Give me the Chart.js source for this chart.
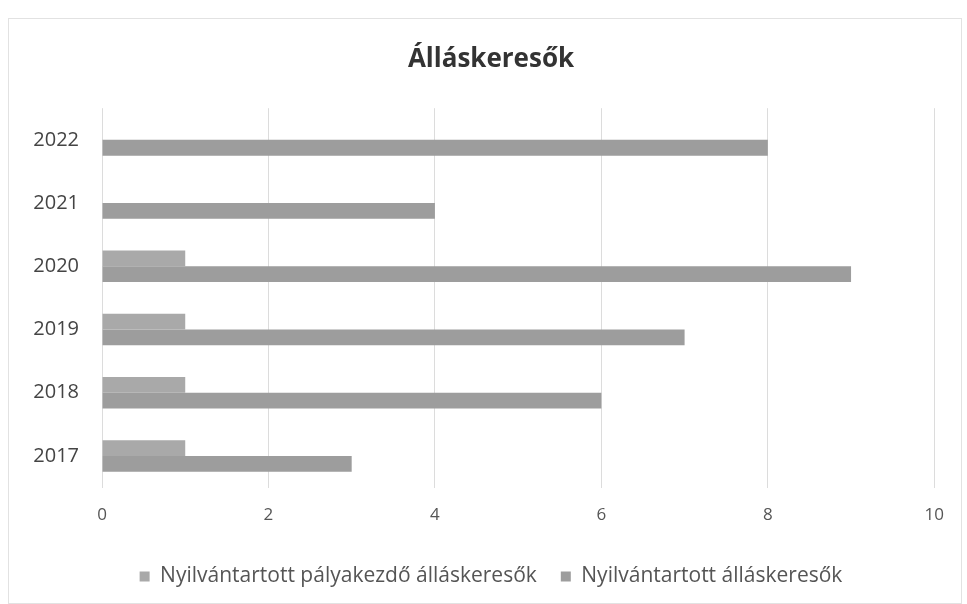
<!DOCTYPE html>
<html>
<head>
<meta charset="utf-8">
<script src="https://cdn.jsdelivr.net/npm/chart.js@4"></script>
<style>
  body { margin: 0; background: #fff; }
  #wrap { position: absolute; left: 8px; top: 18px; width: 952px; height: 584px; border: 1px solid #e2e2e2; }
  canvas { position: absolute; left: 0; top: 0; }
</style>
</head>
<body>
<div id="wrap"><canvas id="chart" width="952" height="584"></canvas></div>
<script>
const years = ["2022", "2021", "2020", "2019", "2018", "2017"];
const palyakezdo = [0, 0, 1, 1, 1, 1];
const allaskeresok = [8, 4, 9, 7, 6, 3];
const seriesNames = ["Nyilvántartott pályakezdő álláskeresők", "Nyilvántartott álláskeresők"];
const xTicks = [0, 2, 4, 6, 8, 10];

const font = "'Open Sans', Lato, sans-serif";

new Chart(document.getElementById("chart"), {
  type: "bar",
  data: {
    labels: years,
    datasets: [
      { label: seriesNames[0], data: palyakezdo, backgroundColor: "#a9a9a9" },
      { label: seriesNames[1], data: allaskeresok, backgroundColor: "#9d9d9d" },
    ],
  },
  options: {
    indexAxis: "y",
    responsive: false,
    animation: false,
    categoryPercentage: 0.5,
    barPercentage: 1,
    layout: { padding: { left: 12, right: 0, top: 8, bottom: 6 } },
    scales: {
      x: {
        min: 0,
        max: 10,
        afterBuildTicks: (s) => { s.ticks = xTicks.map((v) => ({ value: v })); },
        grid: { color: "#dcdcdc", drawTicks: false },
        border: { display: false },
        ticks: { color: "#555", font: { family: font, size: 17 }, padding: 17 },
      },
      y: {
        afterFit: (s) => { s.width = 81; },
        grid: { display: false },
        border: { display: false },
        ticks: { color: "#444", font: { family: font, size: 20 }, padding: 15 },
      },
    },
    plugins: {
      title: {
        display: true,
        text: "Álláskeresők",
        color: "#333",
        font: { family: font, size: 26, weight: "bold" },
        padding: { top: 17, bottom: 33 },
      },
      legend: {
        position: "bottom",
        labels: {
          color: "#555",
          font: { family: font, size: 21 },
          boxWidth: 10,
          boxHeight: 10,
          padding: 24,
        },
      },
      tooltip: { enabled: false },
    },
  },
});
</script>
</body>
</html>
